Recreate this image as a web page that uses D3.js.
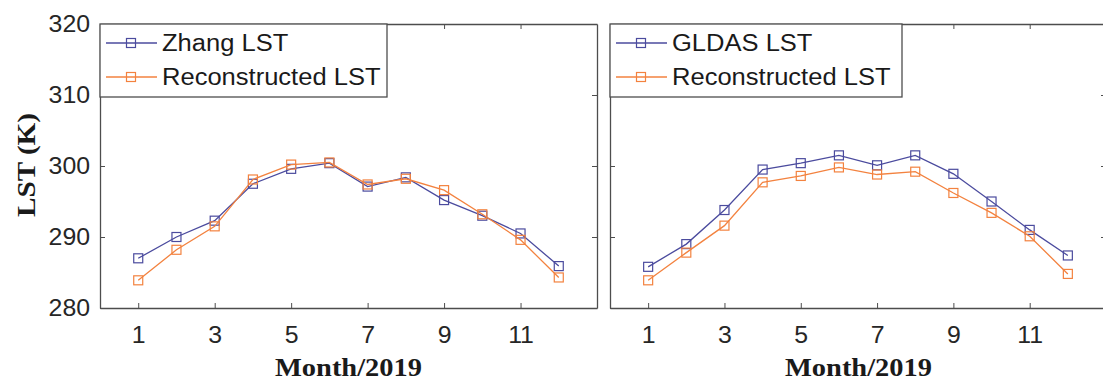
<!DOCTYPE html>
<html>
<head>
<meta charset="utf-8">
<script src="https://cdn.jsdelivr.net/npm/d3@7"></script>
<style>
  body { margin: 0; background: #fff; }
  svg { display: block; }
</style>
</head>
<body>
<div id="chart"></div>
<script>
var months = [1, 2, 3, 4, 5, 6, 7, 8, 9, 10, 11, 12];
var xTicks = [1, 3, 5, 7, 9, 11];
var yTicks = [280, 290, 300, 310, 320];

// left panel
var zhangLST = [287.0, 290.0, 292.3, 297.5, 299.6, 300.4, 297.1, 298.4, 295.2, 293.0, 290.5, 285.9];
var reconLeft = [283.9, 288.2, 291.5, 298.1, 300.2, 300.5, 297.4, 298.2, 296.6, 293.2, 289.6, 284.3];
// right panel
var gldasLST = [285.8, 289.0, 293.8, 299.5, 300.4, 301.5, 300.1, 301.5, 298.9, 295.0, 291.0, 287.4];
var reconRight = [283.9, 287.8, 291.6, 297.7, 298.6, 299.8, 298.8, 299.2, 296.2, 293.4, 290.1, 284.8];

var blue = '#4b4b9e',
    orange = '#f3823f',
    axisColor = '#4d4d4d';

var width = 1103, height = 380;
var plotTop = 24, plotBottom = 308;

// the source figure's text is a little wider than the fonts here
function stretch(sel, factor) {
  sel.each(function() {
    var w = this.getComputedTextLength();
    d3.select(this)
        .attr('textLength', w * factor)
        .attr('lengthAdjust', 'spacingAndGlyphs');
  });
}

var svg = d3.select('#chart').append('svg')
    .attr('width', width)
    .attr('height', height);

var yScale = d3.scaleLinear().domain([280, 320]).range([plotBottom, plotTop]);

var panels = [
  {x0: 100, x1: 597, names: ['Zhang LST', 'Reconstructed LST'], series: [zhangLST, reconLeft], legendW: 287, yLabels: true},
  {x0: 610, x1: 1106, names: ['GLDAS LST', 'Reconstructed LST'], series: [gldasLST, reconRight], legendW: 292, yLabels: false}
];

panels.forEach(function(p) {
  var xScale = d3.scaleLinear().domain([0, 13]).range([p.x0, p.x1]);
  var g = svg.append('g');

  // axes (ticks inside, like matlab)
  var xb = g.append('g').attr('transform', 'translate(0,' + plotBottom + ')')
      .call(d3.axisBottom(xScale).tickValues(xTicks).tickSizeInner(-5).tickSizeOuter(0).tickPadding(19));
  var xt = g.append('g').attr('transform', 'translate(0,' + plotTop + ')')
      .call(d3.axisTop(xScale).tickValues(xTicks).tickSizeInner(-5).tickSizeOuter(0).tickFormat(''));
  var yl = g.append('g').attr('transform', 'translate(' + p.x0 + ',0)')
      .call(d3.axisLeft(yScale).tickValues(yTicks).tickSizeInner(-5).tickSizeOuter(0).tickPadding(10)
        .tickFormat(p.yLabels ? d3.format('d') : ''));
  var yr = g.append('g').attr('transform', 'translate(' + p.x1 + ',0)')
      .call(d3.axisRight(yScale).tickValues(yTicks).tickSizeInner(-5).tickSizeOuter(0).tickFormat(''));

  [xb, xt, yl, yr].forEach(function(a) {
    a.selectAll('path').attr('stroke', axisColor).attr('stroke-width', 1.3);
    a.selectAll('line').attr('stroke', axisColor);
    a.selectAll('text')
        .attr('fill', '#262626')
        .style('font-family', '"Liberation Sans", Arial, sans-serif')
        .style('font-size', '23px');
  });
  xb.selectAll('text').attr('dy', '0.71em');
  stretch(xb.selectAll('text'), 1.08);
  if (p.yLabels) stretch(yl.selectAll('text'), 1.08);

  // series
  var colors = [blue, orange];
  var line = d3.line()
      .x(function(d, i) { return xScale(months[i]); })
      .y(function(d) { return yScale(d); });

  p.series.forEach(function(s, k) {
    g.append('path')
        .datum(s)
        .attr('fill', 'none')
        .attr('stroke', colors[k])
        .attr('stroke-width', 1.3)
        .attr('d', line);
    g.selectAll('.m' + k)
        .data(s)
        .enter()
        .append('rect')
        .attr('class', 'm' + k)
        .attr('x', function(d, i) { return xScale(months[i]) - 4.5; })
        .attr('y', function(d) { return yScale(d) - 4.5; })
        .attr('width', 9)
        .attr('height', 9)
        .attr('fill', 'none')
        .attr('stroke', colors[k])
        .attr('stroke-width', 1.2);
  });

  // legend
  var lg = g.append('g').attr('transform', 'translate(' + p.x0 + ',' + plotTop + ')');
  lg.append('rect')
      .attr('width', p.legendW)
      .attr('height', 73)
      .attr('fill', '#fff')
      .attr('stroke', axisColor)
      .attr('stroke-width', 1.3);
  p.names.forEach(function(n, k) {
    var yy = 19 + k * 34;
    lg.append('line')
        .attr('x1', 6).attr('x2', 57)
        .attr('y1', yy).attr('y2', yy)
        .attr('stroke', colors[k]).attr('stroke-width', 1.3);
    lg.append('rect')
        .attr('x', 31 - 4.5).attr('y', yy - 4.5)
        .attr('width', 9).attr('height', 9)
        .attr('fill', 'none')
        .attr('stroke', colors[k]).attr('stroke-width', 1.2);
    var t = lg.append('text')
        .attr('x', 62).attr('y', yy + 8)
        .style('font-family', '"Liberation Sans", Arial, sans-serif')
        .style('font-size', '23px')
        .attr('fill', '#1a1a1a')
        .text(n);
    stretch(t, 1.11);
  });

  // x label
  g.append('text')
      .attr('x', (p.x0 + p.x0 + 497) / 2)
      .attr('y', 376)
      .attr('text-anchor', 'middle')
      .attr('textLength', 147)
      .attr('lengthAdjust', 'spacingAndGlyphs')
      .style('font-family', '"Liberation Serif", "Times New Roman", serif')
      .style('font-weight', 'bold')
      .style('font-size', '25px')
      .attr('fill', '#1a1a1a')
      .text('Month/2019');
});

svg.append('text')
    .attr('transform', 'translate(35,165) rotate(-90)')
    .attr('text-anchor', 'middle')
    .attr('textLength', 104)
    .attr('lengthAdjust', 'spacingAndGlyphs')
    .style('font-family', '"Liberation Serif", "Times New Roman", serif')
    .style('font-weight', 'bold')
    .style('font-size', '26px')
    .attr('fill', '#1a1a1a')
    .text('LST (K)');
</script>
</body>
</html>
